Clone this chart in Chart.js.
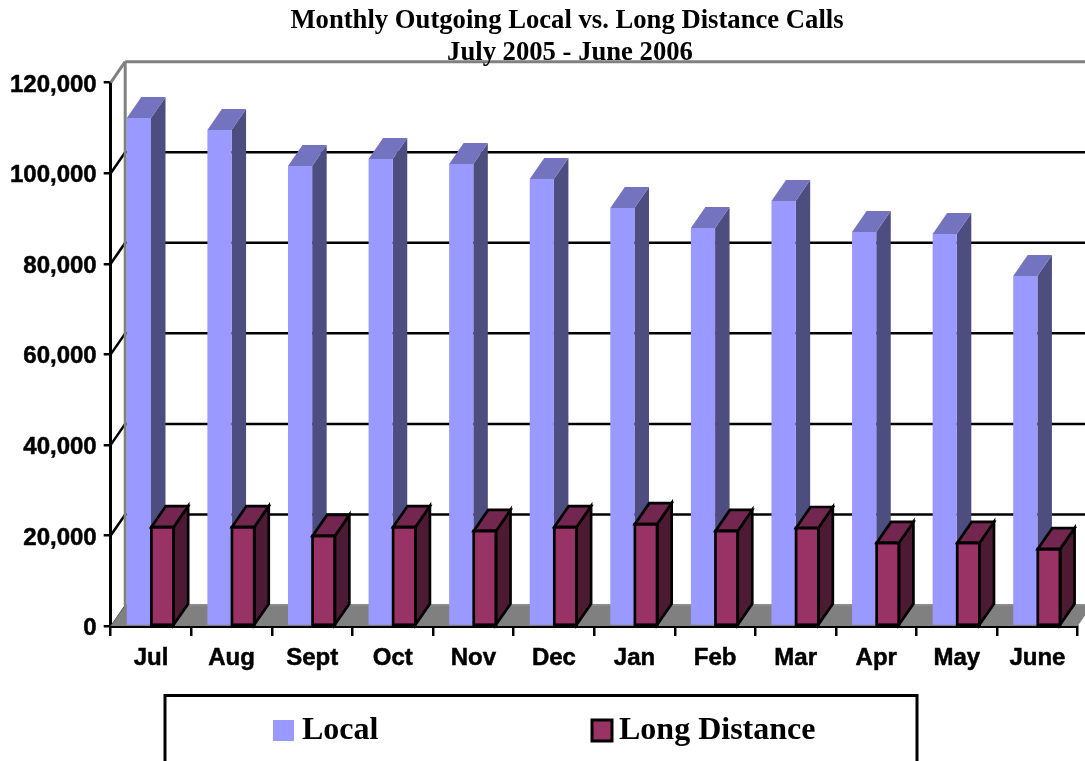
<!DOCTYPE html>
<html>
<head>
<meta charset="utf-8">
<title>Monthly Outgoing Calls</title>
<script src="https://cdn.jsdelivr.net/npm/chart.js@4"></script>
<style>
    html, body { margin: 0; padding: 0; background: #fff; overflow: hidden; }
    canvas { display: block; }
</style>
</head>
<body>
<canvas id="callsChart" width="1085" height="761"></canvas>
<script>
const months = ['Jul', 'Aug', 'Sept', 'Oct', 'Nov', 'Dec', 'Jan', 'Feb', 'Mar', 'Apr', 'May', 'June'];
const localCalls = [112200, 109560, 101600, 103150, 102050, 98750, 92300, 87900, 93850, 87050, 86600, 77300];
const longDistanceCalls = [21850, 21850, 19900, 21850, 21000, 21850, 22500, 21000, 21650, 18350, 18350, 17000];
const titleLines = ['Monthly Outgoing Local vs. Long Distance Calls', 'July 2005 - June 2006'];

// depth of the fake 3d box, in px
const DEPTH_X = 14.5;
const DEPTH_Y = 21;

function poly(ctx, pts, fill, stroke, lineWidth) {
    ctx.beginPath();
    pts.forEach((p, i) => i ? ctx.lineTo(p[0], p[1]) : ctx.moveTo(p[0], p[1]));
    ctx.closePath();
    ctx.fillStyle = fill;
    ctx.fill();
    if (stroke) {
        ctx.strokeStyle = stroke;
        ctx.lineWidth = lineWidth;
        ctx.lineJoin = 'miter';
        ctx.stroke();
    }
}

function line(ctx, x1, y1, x2, y2, color, width) {
    ctx.beginPath();
    ctx.moveTo(x1, y1);
    ctx.lineTo(x2, y2);
    ctx.strokeStyle = color;
    ctx.lineWidth = width;
    ctx.stroke();
}

// side and top faces of the plain bars
function drawPlainFaces(chart, index, sideColor, topColor) {
    const ctx = chart.ctx;
    chart.getDatasetMeta(index).data.forEach(bar => {
        const left = bar.x - bar.width / 2;
        const right = bar.x + bar.width / 2;
        poly(ctx, [[right, bar.y], [right + DEPTH_X, bar.y - DEPTH_Y], [right + DEPTH_X, bar.base - DEPTH_Y], [right, bar.base]], sideColor);
        poly(ctx, [[left, bar.y], [left + DEPTH_X, bar.y - DEPTH_Y], [right + DEPTH_X, bar.y - DEPTH_Y], [right, bar.y]], topColor);
    });
}

// side, top and front outline of the bars with a black edge
function drawOutlinedFaces(chart, index, sideColor, topColor) {
    const ctx = chart.ctx;
    chart.getDatasetMeta(index).data.forEach(bar => {
        const left = bar.x - bar.width / 2 + 0.4;
        const right = bar.x + bar.width / 2 - 1.5;
        poly(ctx, [[right, bar.y], [right + DEPTH_X, bar.y - DEPTH_Y], [right + DEPTH_X, bar.base - DEPTH_Y], [right, bar.base]], sideColor, '#000', 2.7);
        poly(ctx, [[left, bar.y], [left + DEPTH_X, bar.y - DEPTH_Y], [right + DEPTH_X, bar.y - DEPTH_Y], [right, bar.y]], topColor, '#000', 2.7);
        ctx.strokeStyle = '#000';
        ctx.lineWidth = 2.7;
        ctx.strokeRect(left, bar.y, right - left, bar.base - bar.y);
    });
}

const box3d = {
    id: 'box3d',
    beforeDraw(chart) {
        // y labels sit slightly under their tick marks
        chart.scales.y.getLabelItems().forEach(item => { item.textOffset = 2.5; });
    },
    beforeDatasetsDraw(chart) {
        const ctx = chart.ctx;
        const area = chart.chartArea;
        const y = chart.scales.y;

        // floor
        poly(ctx, [[area.left, area.bottom], [area.right, area.bottom], [area.right + DEPTH_X, area.bottom - DEPTH_Y], [area.left + DEPTH_X, area.bottom - DEPTH_Y]], '#808080');

        // gridlines run along the back wall and down the left wall
        y.ticks.forEach(tick => {
            const py = y.getPixelForValue(tick.value);
            if (tick.value === 0) {
                line(ctx, area.left, py, area.left + DEPTH_X, py - DEPTH_Y, '#555', 1);
                line(ctx, area.left + DEPTH_X, py - DEPTH_Y, area.right + DEPTH_X, py - DEPTH_Y, '#8c8c8c', 2);
            } else if (tick.value === y.max) {
                line(ctx, area.left, py, area.left + DEPTH_X, py - DEPTH_Y, '#808080', 3);
                line(ctx, area.left + DEPTH_X, py - DEPTH_Y, area.right + DEPTH_X, py - DEPTH_Y, '#808080', 3);
            } else {
                line(ctx, area.left, py, area.left + DEPTH_X, py - DEPTH_Y, '#000', 2.5);
                line(ctx, area.left + DEPTH_X, py - DEPTH_Y, area.right + DEPTH_X, py - DEPTH_Y, '#000', 2.5);
            }
        });
        line(ctx, area.left + DEPTH_X, area.top - DEPTH_Y, area.left + DEPTH_X, area.bottom - DEPTH_Y, '#808080', 3);

        drawPlainFaces(chart, 0, '#4D4D80', '#7373BF');
    },
    afterDatasetsDraw(chart) {
        drawOutlinedFaces(chart, 1, '#4D1A33', '#732650');
    },
    afterDraw(chart) {
        const ctx = chart.ctx;
        ctx.save();
        ctx.fillStyle = '#000';
        ctx.textBaseline = 'middle';
        ctx.textAlign = 'center';
        ctx.font = 'bold 26.67px "Liberation Serif"';
        ctx.fillText(titleLines[0], 567, 21);
        ctx.fillText(titleLines[1], 570, 53);

        // legend box runs off the bottom edge
        ctx.strokeStyle = '#000';
        ctx.lineWidth = 3;
        ctx.strokeRect(165, 695.5, 752, 90);

        ctx.textAlign = 'left';
        ctx.font = 'bold 32px "Liberation Serif"';
        ctx.fillStyle = '#9999FF';
        ctx.fillRect(273, 720, 21, 21);
        ctx.fillStyle = '#993366';
        ctx.fillRect(592, 720, 20, 21);
        ctx.strokeStyle = '#000';
        ctx.lineWidth = 3;
        ctx.strokeRect(592, 720, 20, 21);
        ctx.fillStyle = '#000';
        ctx.fillText(chart.data.datasets[0].label, 302, 731);
        ctx.fillText(chart.data.datasets[1].label, 619, 731);
        ctx.restore();
    }
};

new Chart(document.getElementById('callsChart'), {
    type: 'bar',
    data: {
        labels: months,
        datasets: [{
            label: 'Local',
            data: localCalls,
            backgroundColor: '#9999FF',
            borderWidth: 0
        }, {
            label: 'Long Distance',
            data: longDistanceCalls,
            backgroundColor: '#993366',
            borderWidth: 0
        }]
    },
    options: {
        responsive: false,
        animation: false,
        layout: {
            padding: { top: 82.7, right: 7.3, left: 0, bottom: 0 }
        },
        datasets: {
            bar: {
                barPercentage: 1,
                categoryPercentage: 0.6
            }
        },
        plugins: {
            legend: { display: false },
            title: { display: false },
            tooltip: { enabled: false }
        },
        scales: {
            x: {
                afterFit(scale) { scale.height = 135; },
                border: { color: '#000', width: 3 },
                grid: { drawOnChartArea: false, color: '#000', lineWidth: 2.5, tickLength: 10 },
                ticks: {
                    color: '#000',
                    padding: 8,
                    maxRotation: 0,
                    textStrokeColor: '#000',
                    textStrokeWidth: 0.5,
                    font: { family: '"Liberation Sans"', size: 24, weight: 'bold' }
                }
            },
            y: {
                min: 0,
                max: 120000,
                afterFit(scale) { scale.width = 110.7; },
                border: { color: '#000', width: 3 },
                grid: { drawOnChartArea: false, color: '#000', lineWidth: 2.5, tickLength: 7 },
                ticks: {
                    stepSize: 20000,
                    color: '#000',
                    padding: 7,
                    textStrokeColor: '#000',
                    textStrokeWidth: 0.5,
                    font: { family: '"Liberation Sans"', size: 24, weight: 'bold' },
                    callback: value => value.toLocaleString('en-US')
                }
            }
        }
    },
    plugins: [box3d]
});
</script>
</body>
</html>
